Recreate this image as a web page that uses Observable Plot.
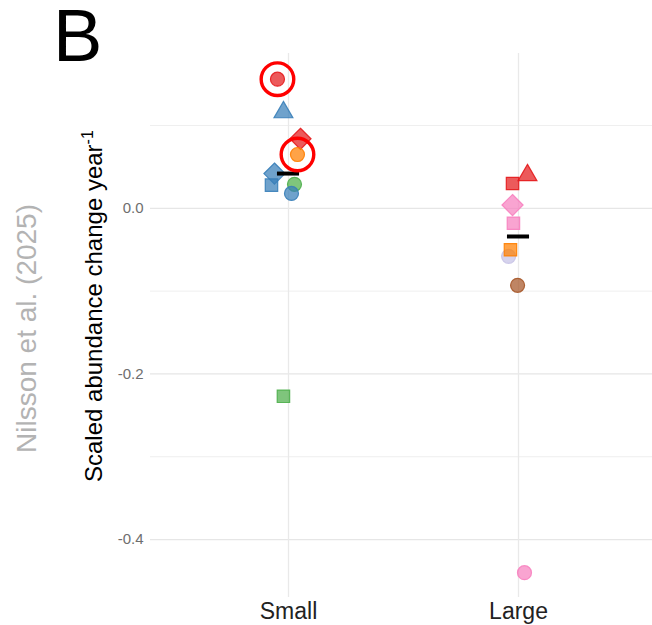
<!DOCTYPE html>
<html>
<head>
<meta charset="utf-8">
<script src="https://cdn.jsdelivr.net/npm/d3@7"></script>
<script src="https://cdn.jsdelivr.net/npm/@observablehq/plot@0.6"></script>
<style>
  html, body { margin: 0; padding: 0; background: #fff; }
  #chart { width: 652px; height: 625px; overflow: hidden; }
  svg { font-family: "Liberation Sans", Arial, Helvetica, sans-serif; }
</style>
</head>
<body>
<div id="chart"></div>
<script>
// ---- data ----
const bodySize   = ["Small","Small","Small","Small","Small","Small","Small","Small","Small",
                    "Large","Large","Large","Large","Large","Large","Large","Large"];
const group      = ["G1","G2","G1","G4","G2","G2","G3","G2","G3",
                    "G1","G1","G5","G5","G7","G4","G6","G5"];
const shape      = ["S1","S2","S4","S1","S4","S3","S1","S1","S3",
                    "S3","S2","S4","S3","S1","S3","S1","S1"];
const change     = [0.156, 0.116, 0.084, 0.065, 0.042, 0.028, 0.029, 0.018, -0.227,
                    0.030, 0.040, 0.004, -0.018, -0.058, -0.050, -0.093, -0.440];
const jitter     = [-0.048, -0.022, 0.052, 0.039, -0.061, -0.074, 0.026, 0.013, -0.022,
                    -0.026, 0.039, -0.026, -0.022, -0.043, -0.035, -0.004, 0.026];
const highlighted= [true, false, false, true, false, false, false, false, false,
                    false, false, false, false, false, false, false, false];

const sizeCategories = ["Small", "Large"];
const groupNames  = ["G1","G2","G3","G4","G5","G6","G7"];
const groupColors = ["#E41A1C","#377EB8","#4DAF4A","#FF7F00","#F781BF","#A65628","#C6C2E6"];
const shapeNames  = ["S1","S2","S3","S4"];
const shapeSymbols= ["circle","triangle","square","diamond2"];
const yTicks      = [-0.4, -0.2, 0.0];
const yMinor      = [-0.3, -0.1, 0.1];

// ---- build table ----
const data = bodySize.map((s, i) => ({
  size: s, idx: sizeCategories.indexOf(s) + 1, group: group[i], shape: shape[i],
  value: change[i], jitter: jitter[i], ring: highlighted[i]
}));
const medians = sizeCategories.map((s, i) => ({
  idx: i + 1, median: d3.median(data.filter(d => d.size === s), d => d.value)
}));

const px = d => d.idx + d.jitter;

const plot = Plot.plot({
  width: 652,
  height: 625,
  marginLeft: 150,
  marginRight: 0,
  marginTop: 53,
  marginBottom: 28,
  style: { fontFamily: "'Liberation Sans', Arial, sans-serif", background: "white" },
  x: { type: "linear", domain: [0.4, 2.6], range: [150, 656], axis: null },
  y: { domain: [-0.47, 0.187], axis: null },
  r: { type: "identity" },
  color: { type: "ordinal", domain: groupNames, range: groupColors },
  symbol: { type: "ordinal", domain: shapeNames, range: shapeSymbols },
  marks: [
    Plot.ruleY(yMinor, { stroke: "#efefef", strokeWidth: 1 }),
    Plot.ruleY(yTicks, { stroke: "#e6e6e6", strokeWidth: 1.3 }),
    Plot.ruleX([1, 2], { stroke: "#e9e9e9", strokeWidth: 1.3 }),
    Plot.axisY(yTicks, {
      tickSize: 0, tickPadding: 7, fontSize: 15, fill: "#6e6e6e",
      tickFormat: d => d.toFixed(1), label: null
    }),
    Plot.axisX([1, 2], {
      tickSize: 0, tickPadding: 5, fontSize: 23, fill: "#222",
      tickFormat: d => sizeCategories[d - 1], label: null
    }),
    Plot.dot(data, {
      x: px, y: "value", fill: "group", stroke: "group", symbol: "shape",
      r: d => d.shape === "S4" ? 9.5 : 7,
      fillOpacity: 0.72, strokeOpacity: 0.9, strokeWidth: 1.2
    }),
    Plot.ruleY(medians, {
      y: "median", x1: d => d.idx - 0.048, x2: d => d.idx + 0.048,
      stroke: "black", strokeWidth: 4
    }),
    Plot.dot(data.filter(d => d.ring), {
      x: px, y: "value", r: 16.3, stroke: "#ff0000", strokeWidth: 3.4, fill: "none"
    })
  ]
});

document.getElementById("chart").appendChild(plot);

// ---- panel tag, y title and source note ----
const svg = d3.select(plot);
svg.append("text")
  .attr("x", 53).attr("y", 61).attr("text-anchor", "start")
  .attr("font-size", 74).attr("fill", "#000")
  .text("B");

const yt = svg.append("text")
  .attr("transform", "translate(102,482) rotate(-90)")
  .attr("text-anchor", "start")
  .attr("font-size", 24).attr("fill", "#000");
yt.append("tspan").text("Scaled abundance change year");
yt.append("tspan").attr("font-size", 16).attr("dy", -9).text("-1");

svg.append("text")
  .attr("transform", "translate(36,453) rotate(-90)")
  .attr("text-anchor", "start")
  .attr("font-size", 28).attr("fill", "#b3b3b3")
  .text("Nilsson et al. (2025)");
</script>
</body>
</html>
